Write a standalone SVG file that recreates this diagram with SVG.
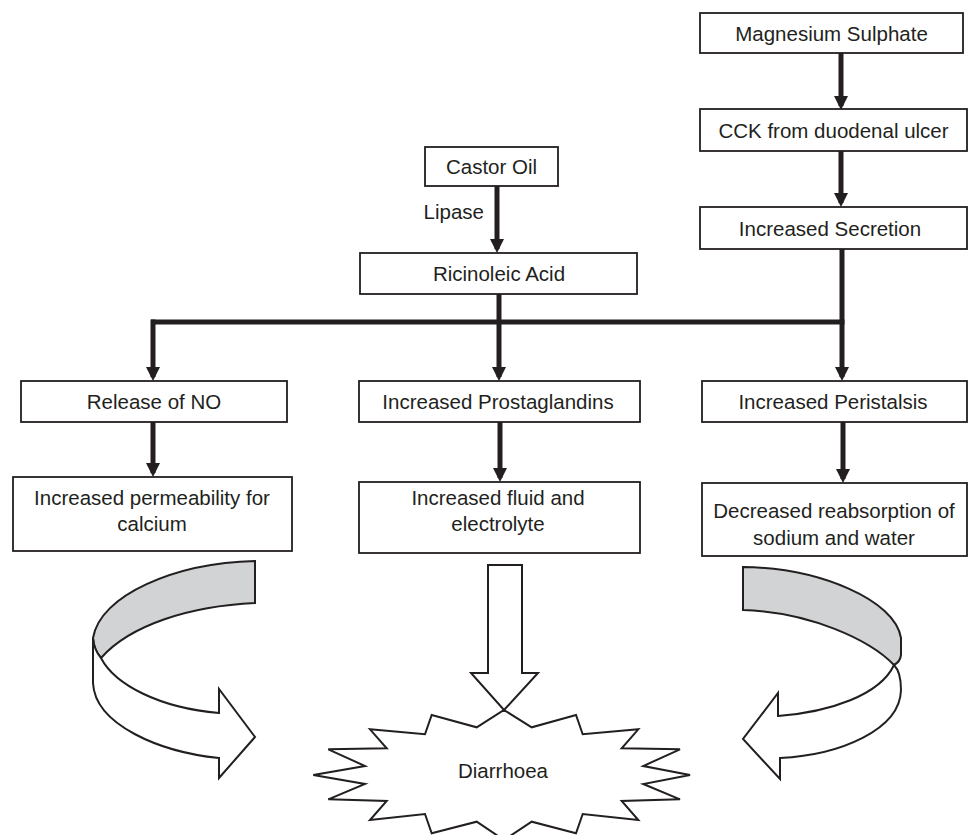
<svg xmlns="http://www.w3.org/2000/svg" width="973" height="835" viewBox="0 0 973 835">
<style>
.box{fill:#fff;stroke:#231f20;stroke-width:1.8}
.t{font-family:"Liberation Sans",Arial,sans-serif;font-size:20.5px;fill:#231f20;text-anchor:middle}
.c{fill:none;stroke:#231f20;stroke-width:5}
.sh{fill:#fff;stroke:#231f20;stroke-width:2;stroke-linejoin:miter}
.gr{fill:#d1d3d4;stroke:#231f20;stroke-width:2}
</style>
<defs>
<marker id="ah" markerUnits="userSpaceOnUse" markerWidth="16" markerHeight="16" refX="10" refY="7" orient="auto">
<path d="M0,0 L14,7 L0,14 Z" fill="#231f20"/>
</marker>
</defs>
<rect width="973" height="835" fill="#fff"/>

<g id="connectors">
<line class="c" x1="841" y1="53" x2="841" y2="106" marker-end="url(#ah)"/>
<line class="c" x1="841" y1="151" x2="841" y2="203" marker-end="url(#ah)"/>
<line class="c" x1="842" y1="249" x2="842" y2="377" marker-end="url(#ah)"/>
<line class="c" x1="497" y1="186" x2="497" y2="249" marker-end="url(#ah)"/>
<line class="c" x1="499" y1="294" x2="499" y2="377" marker-end="url(#ah)"/>
<line class="c" x1="151" y1="322" x2="844.5" y2="322"/>
<line class="c" x1="153" y1="319.5" x2="153" y2="377" marker-end="url(#ah)"/>
<line class="c" x1="153" y1="422" x2="153" y2="473" marker-end="url(#ah)"/>
<line class="c" x1="500" y1="422" x2="500" y2="478" marker-end="url(#ah)"/>
<line class="c" x1="843" y1="422" x2="843" y2="479" marker-end="url(#ah)"/>
<text class="t" x="484" y="219" style="text-anchor:end">Lipase</text>
</g>

<g id="magnesium">
<rect class="box" x="700" y="13" width="263" height="40"/>
<text class="t" x="831.5" y="40.5">Magnesium Sulphate</text>
</g>
<g id="cck">
<rect class="box" x="700" y="109" width="267" height="42"/>
<text class="t" x="833.5" y="137.5">CCK from duodenal ulcer</text>
</g>
<g id="secretion">
<rect class="box" x="700" y="207" width="267" height="42"/>
<text class="t" x="830" y="235.5">Increased Secretion</text>
</g>
<g id="castor">
<rect class="box" x="425" y="147" width="133" height="39"/>
<text class="t" x="491.5" y="173.5">Castor Oil</text>
</g>
<g id="ricinoleic">
<rect class="box" x="360" y="253" width="277" height="41"/>
<text class="t" x="499" y="281">Ricinoleic Acid</text>
</g>
<g id="release-no">
<rect class="box" x="21" y="381" width="266" height="41"/>
<text class="t" x="154" y="409">Release of NO</text>
</g>
<g id="prostaglandins">
<rect class="box" x="359" y="381" width="281" height="41"/>
<text class="t" x="498" y="409">Increased Prostaglandins</text>
</g>
<g id="peristalsis">
<rect class="box" x="702" y="381" width="265" height="41"/>
<text class="t" x="833" y="409">Increased Peristalsis</text>
</g>
<g id="permeability">
<rect class="box" x="13" y="477" width="279" height="74"/>
<text class="t" x="152" y="505">Increased permeability for</text>
<text class="t" x="152" y="531">calcium</text>
</g>
<g id="fluid">
<rect class="box" x="359" y="482" width="281" height="71"/>
<text class="t" x="498" y="505">Increased fluid and</text>
<text class="t" x="498" y="531">electrolyte</text>
</g>
<g id="reabsorption">
<rect class="box" x="702" y="483" width="265" height="73"/>
<text class="t" x="834" y="518">Decreased reabsorption of</text>
<text class="t" x="834" y="545">sodium and water</text>
</g>

<g id="left-curved-arrow">
<path class="gr" d="M255,561 C175,563 100,595 93,638 Q94,650 101,658 C130,625 190,606 255,603 Z"/>
<path class="sh" d="M93,638 L93,683 C95,725 160,752 219,758 L219,778 L255,737 L219,689 L219,713 C160,708 115,685 101,658 Q94,650 93,638 Z"/>
</g>
<g id="right-curved-arrow">
<path class="gr" d="M743,567 C820,568 895,600 901,638 L901,655 Q900,662 894,665 C870,640 810,612 743,610 Z"/>
<path class="sh" d="M894,665 Q901,672 901,690 C900,730 840,755 780,758 L780,779 L743,739 L778,693 L778,716 C830,712 880,695 894,665 Z"/>
</g>
<g id="down-arrow">
<path class="sh" d="M488,565 L522,565 L522,673 L538,673 L504,710 L471,673 L488,673 Z"/>
</g>
<g id="diarrhoea">
<path class="sh" d="M504,710 L531.7,727.3 L576,715 L582.7,734.3 L638.3,729.3 L621.7,748.3 L680,749.3 L643.3,766 L690,775 L643.3,784 L680,799.3 L621.7,801 L638.3,820 L582.7,814 L576,833.3 L531.7,821.7 L504,840 L476.7,821.7 L431.7,833.3 L425,814 L370,820 L386.7,801 L328.3,799.3 L365,784 L313.3,775 L365,766 L328.3,749.3 L386.7,748.3 L370,729.3 L425,734.3 L431.7,715 L476.7,727.3 Z"/>
<text class="t" x="503" y="778">Diarrhoea</text>
</g>
</svg>
